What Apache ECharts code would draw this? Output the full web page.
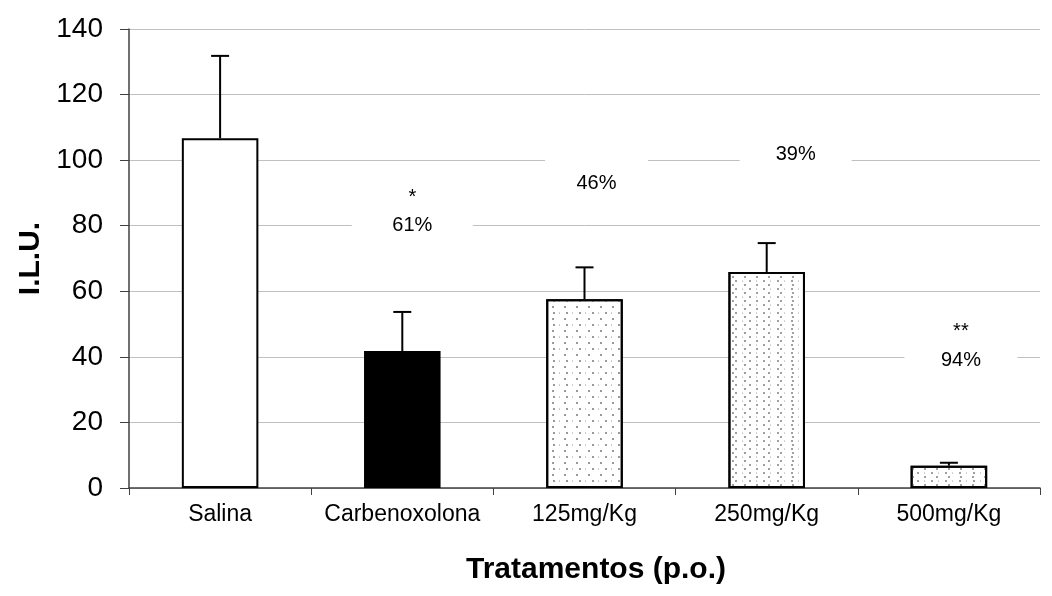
<!DOCTYPE html>
<html>
<head>
<meta charset="utf-8">
<script src="https://cdn.jsdelivr.net/npm/echarts@6/dist/echarts.min.js"></script>
<style>
  html, body { margin: 0; padding: 0; background: #fff; }
  #chart { width: 1052px; height: 596px; }
</style>
</head>
<body>
<div id="chart"></div>
<script>
  // dados
  var categorias = ['Salina', 'Carbenoxolona', '125mg/Kg', '250mg/Kg', '500mg/Kg'];
  var medias = [106.7, 41.8, 57.6, 65.9, 6.8];
  var erros = [25.1, 11.9, 9.7, 8.8, 0.9];
  var yTicks = [0, 20, 40, 60, 80, 100, 120, 140];

  var pctTextos = ['', '61%', '46%', '39%', '94%'];
  var pctY = [null, 80.2, 93.0, 101.6, 39.0];
  var estrelas = ['', '*', '', '', '**'];
  var estrelaY = [null, 88.6, null, null, 47.8];

  var fonte = 'Liberation Sans, Arial, sans-serif';

  var pontos = {
    symbol: 'circle', symbolSize: 1, color: '#777',
    dashArrayX: [[1.5, 9.5], [0.01, 5.5, 1.5, 4]], dashArrayY: [1.5, 4]
  };
  var pontosDensos = {
    symbol: 'circle', symbolSize: 1, color: '#808080',
    dashArrayX: [[1.3, 9.7], [0.01, 5.5, 1.3, 4.2]], dashArrayY: [1.3, 1.7]
  };
  var estilos = [
    { color: '#fff' },
    { color: '#000' },
    { color: '#fff', decal: pontos },
    { color: '#fff', decal: pontosDensos },
    { color: '#fff', decal: pontosDensos }
  ];
  var labelOffsets = [0, 10, 12, 29, 12];
  var labelWidths = [0, 121, 103, 112, 113];

  var chart = echarts.init(document.getElementById('chart'));

  var barras = medias.map(function (v, i) {
    var st = estilos[i];
    return {
      value: v,
      itemStyle: { color: st.color, decal: st.decal || null, borderColor: '#000', borderWidth: 2 }
    };
  });
  var barrasErro = medias.map(function (v, i) { return [i, v, v + erros[i]]; });

  var pctDados = [];
  pctTextos.forEach(function (t, i) {
    if (!t) return;
    pctDados.push({
      value: [i, pctY[i]],
      name: t,
      label: { offset: [labelOffsets[i], 0], width: labelWidths[i] }
    });
  });
  var estrelaDados = [];
  estrelas.forEach(function (t, i) {
    if (!t) return;
    estrelaDados.push({ value: [i, estrelaY[i]], name: t, label: { offset: [labelOffsets[i], 0] } });
  });

  var option = {
    animation: false,
    backgroundColor: '#fff',
    grid: { left: 129, right: 12, top: 29, bottom: 108 },
    xAxis: {
      type: 'category',
      data: categorias,
      axisLine: { lineStyle: { color: '#404040', width: 1.5 } },
      axisTick: { show: true, interval: 0, length: 7, lineStyle: { color: '#404040' } },
      axisLabel: { interval: 0, color: '#000', fontSize: 23, fontFamily: fonte, margin: 15 },
      splitLine: { show: false }
    },
    yAxis: {
      type: 'value',
      min: 0, max: 140, interval: 20,
      name: 'I.L.U.',
      nameLocation: 'middle',
      nameGap: 82,
      nameTextStyle: { color: '#000', fontSize: 30, fontWeight: 'bold', fontFamily: fonte },
      axisLine: { show: true, lineStyle: { color: '#404040', width: 1.5 } },
      axisTick: { show: true, length: 9, lineStyle: { color: '#404040' } },
      axisLabel: {
        color: '#000', fontSize: 28, fontFamily: fonte, margin: 26,
        formatter: function (v) { return yTicks.indexOf(v) >= 0 ? String(v) : ''; }
      },
      splitLine: { lineStyle: { color: '#c0c0c0', width: 1 } }
    },
    graphic: [{
      type: 'text',
      x: 596, y: 570,
      style: {
        text: 'Tratamentos (p.o.)', fill: '#000', font: 'bold 30px ' + fonte,
        align: 'center', verticalAlign: 'middle'
      }
    }],
    series: [
      {
        type: 'bar',
        data: barras,
        barWidth: '42%',
        z: 2
      },
      {
        type: 'custom',
        data: barrasErro,
        z: 3,
        renderItem: function (params, api) {
          var base = api.coord([api.value(0), api.value(1)]);
          var topo = api.coord([api.value(0), api.value(2)]);
          var st = { stroke: '#000', lineWidth: 2 };
          return {
            type: 'group',
            children: [
              { type: 'line', shape: { x1: base[0], y1: base[1], x2: topo[0], y2: topo[1] }, style: st },
              { type: 'line', shape: { x1: topo[0] - 9, y1: topo[1], x2: topo[0] + 9, y2: topo[1] }, style: st }
            ]
          };
        }
      },
      {
        type: 'scatter',
        data: pctDados,
        symbolSize: 0,
        z: 4,
        itemStyle: { opacity: 1 },
        label: {
          show: true,
          position: 'inside',
          formatter: '{b}',
          color: '#000',
          fontSize: 20,
          fontFamily: fonte,
          align: 'center',
          backgroundColor: '#fff',
          padding: [16, 0, 16, 0]
        }
      },
      {
        type: 'scatter',
        data: estrelaDados,
        symbolSize: 0,
        z: 5,
        itemStyle: { opacity: 1 },
        label: {
          show: true,
          position: 'inside',
          formatter: '{b}',
          color: '#000',
          fontSize: 20,
          fontFamily: fonte
        }
      }
    ]
  };

  chart.setOption(option);
</script>
</body>
</html>
